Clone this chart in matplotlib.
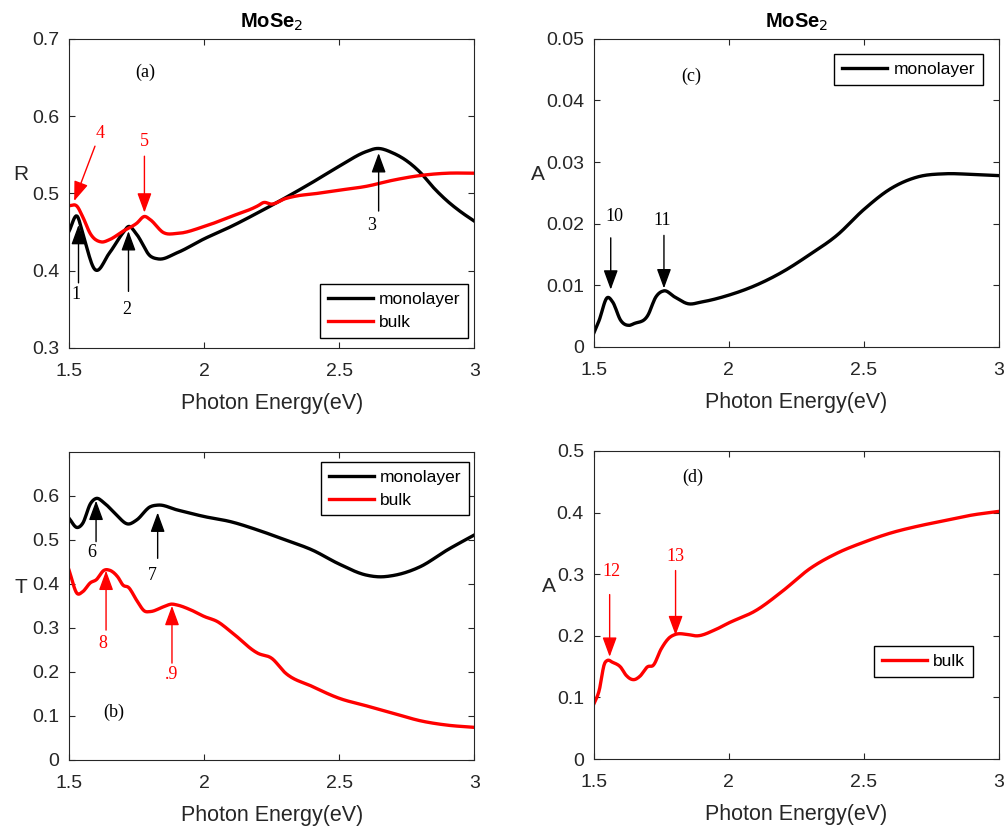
import numpy as np
import matplotlib.pyplot as plt

plt.rcParams['font.family'] = ['Liberation Sans', 'DejaVu Sans']

# ---- data ----
# (a) reflectance
ER_mono = [1.5, 1.531, 1.55, 1.594, 1.65, 1.7, 1.72, 1.75, 1.8, 1.83, 1.9, 2.0, 2.1, 2.2, 2.3,
           2.4, 2.5, 2.6, 2.64, 2.7, 2.75, 2.8, 2.85, 2.9, 2.95, 3.0]
R_mono = [0.451, 0.470, 0.449, 0.402, 0.423, 0.449, 0.457, 0.447, 0.419, 0.415, 0.423, 0.441,
          0.457, 0.475, 0.494, 0.514, 0.535, 0.554, 0.558, 0.552, 0.542, 0.527, 0.507, 0.490,
          0.476, 0.464]
ER_bulk = [1.5, 1.53, 1.55, 1.58, 1.62, 1.65, 1.7, 1.75, 1.78, 1.8, 1.85, 1.9, 2.0, 2.1, 2.2,
           2.22, 2.25, 2.3, 2.35, 2.4, 2.5, 2.6, 2.7, 2.8, 2.9, 3.0]
R_bulk = [0.484, 0.483, 0.470, 0.447, 0.437, 0.440, 0.451, 0.461, 0.470, 0.466, 0.449, 0.448,
          0.457, 0.470, 0.484, 0.488, 0.486, 0.493, 0.497, 0.499, 0.504, 0.509, 0.517, 0.523,
          0.526, 0.526]

# (b) transmittance
ET_mono = [1.5, 1.53, 1.55, 1.58, 1.6, 1.63, 1.67, 1.72, 1.75, 1.8, 1.83, 1.9, 2.0, 2.1, 2.2,
           2.3, 2.4, 2.5, 2.6, 2.65, 2.7, 2.8, 2.9, 3.0]
T_mono = [0.549, 0.528, 0.537, 0.583, 0.594, 0.584, 0.560, 0.536, 0.545, 0.575, 0.579, 0.568,
          0.553, 0.541, 0.522, 0.500, 0.477, 0.445, 0.420, 0.416, 0.419, 0.439, 0.477, 0.511]
ET_bulk = [1.5, 1.53, 1.55, 1.58, 1.6, 1.63, 1.65, 1.68, 1.7, 1.72, 1.75, 1.78, 1.8, 1.85,
           1.88, 1.9, 1.95, 2.0, 2.05, 2.1, 2.2, 2.25, 2.3, 2.4, 2.5, 2.6, 2.7, 2.8, 2.9, 3.0]
T_bulk = [0.431, 0.378, 0.382, 0.403, 0.409, 0.431, 0.431, 0.416, 0.397, 0.392, 0.363, 0.338,
          0.337, 0.348, 0.354, 0.352, 0.341, 0.326, 0.314, 0.291, 0.242, 0.231, 0.198, 0.167,
          0.140, 0.123, 0.106, 0.089, 0.079, 0.074]

# (c) absorbance monolayer
EA_mono = [1.5, 1.52, 1.55, 1.57, 1.6, 1.63, 1.65, 1.7, 1.73, 1.76, 1.8, 1.85, 1.9, 2.0, 2.1,
           2.2, 2.3, 2.4, 2.5, 2.6, 2.7, 2.8, 2.9, 3.0]
A_mono = [0.0022, 0.0043, 0.0080, 0.0073, 0.0043, 0.0035, 0.0038, 0.0051, 0.0081, 0.0091,
          0.0081, 0.0070, 0.0073, 0.0084, 0.0100, 0.0122, 0.0150, 0.0181, 0.0223, 0.0257,
          0.0276, 0.0281, 0.0280, 0.0278]

# (d) absorbance bulk
EA_bulk = [1.5, 1.52, 1.54, 1.55, 1.57, 1.6, 1.62, 1.65, 1.67, 1.7, 1.72, 1.75, 1.78, 1.8,
           1.85, 1.88, 1.95, 2.0, 2.1, 2.2, 2.3, 2.4, 2.5, 2.6, 2.7, 2.8, 2.9, 3.0]
A_bulk = [0.089, 0.111, 0.155, 0.160, 0.157, 0.149, 0.136, 0.129, 0.134, 0.150, 0.152, 0.179,
          0.197, 0.202, 0.202, 0.200, 0.210, 0.221, 0.241, 0.273, 0.309, 0.334, 0.352, 0.367,
          0.378, 0.387, 0.396, 0.402]


def smooth(x, y):
    # cubic Hermite through the read points, just for a smooth line
    xs = np.linspace(x[0], x[-1], 400)
    x = np.asarray(x)
    y = np.asarray(y)
    d = np.gradient(y, x)
    idx = np.clip(np.searchsorted(x, xs) - 1, 0, len(x) - 2)
    h = x[idx + 1] - x[idx]
    t = (xs - x[idx]) / h
    h00 = 2 * t**3 - 3 * t**2 + 1
    h10 = t**3 - 2 * t**2 + t
    h01 = -2 * t**3 + 3 * t**2
    h11 = t**3 - t**2
    ys = h00 * y[idx] + h10 * h * d[idx] + h01 * y[idx + 1] + h11 * h * d[idx + 1]
    return xs, ys


fig = plt.figure(figsize=(10.08, 8.26), dpi=100)
ax_a = fig.add_axes([0.0685, 0.579, 0.402, 0.374])
ax_c = fig.add_axes([0.589, 0.580, 0.402, 0.373])
ax_b = fig.add_axes([0.0685, 0.080, 0.402, 0.373])
ax_d = fig.add_axes([0.589, 0.081, 0.402, 0.373])

LW = 2.4
serif = dict(family=['Liberation Serif', 'DejaVu Serif'], fontsize=13)
GRAY = '#262626'


def style(ax):
    ax.set_xlim(1.5, 3)
    ax.set_xticks([1.5, 2, 2.5, 3])
    ax.set_xticklabels(['1.5', '2', '2.5', '3'])
    ax.tick_params(direction='in', top=True, right=True, labelsize=14,
                   colors=GRAY, length=4, width=0.8, pad=7)
    ax.tick_params(axis='x', pad=11)
    for s in ax.spines.values():
        s.set_color(GRAY)
        s.set_linewidth(0.8)
    ax.set_xlabel('Photon Energy(eV)', fontsize=15.5, color=GRAY, labelpad=9)


def ylab(ax, txt, x):
    ax.set_ylabel(txt, rotation=0, fontsize=15, color=GRAY)
    ax.yaxis.set_label_coords(x, 0.53)


def arrow(ax, x0, y0, x1, y1, color):
    ax.annotate('', xy=(x1, y1), xytext=(x0, y0),
                arrowprops=dict(arrowstyle='-|>,head_length=0.6,head_width=0.22',
                                color=color, lw=1.0, mutation_scale=20,
                                shrinkA=0, shrinkB=0))


def legend(ax, **kw):
    leg = ax.legend(fontsize=12.5, handlelength=2.6, handletextpad=0.35, fancybox=False,
                    framealpha=1, edgecolor='black', borderpad=0.45, labelspacing=0.45,
                    borderaxespad=0, **kw)
    leg.get_frame().set_linewidth(1.0)


# (a)
ax_a.plot(*smooth(ER_mono, R_mono), color='black', lw=LW, label='monolayer')
ax_a.plot(*smooth(ER_bulk, R_bulk), color='red', lw=LW, label='bulk')
style(ax_a)
ax_a.set_ylim(0.3, 0.7)
ax_a.set_yticks([0.3, 0.4, 0.5, 0.6, 0.7])
ylab(ax_a, 'R', -0.12)
ax_a.set_title('MoSe$_2$', fontweight='bold', fontsize=14.5, pad=8)
legend(ax_a, loc='lower right', bbox_to_anchor=(0.985, 0.032))
ax_a.text(1.781, 0.656, '(a)', ha='center', va='center', **serif)
arrow(ax_a, 1.535, 0.384, 1.535, 0.459, 'black')
ax_a.text(1.526, 0.369, '1', ha='center', va='center', **serif)
arrow(ax_a, 1.72, 0.373, 1.72, 0.451, 'black')
ax_a.text(1.714, 0.350, '2', ha='center', va='center', **serif)
arrow(ax_a, 2.646, 0.477, 2.646, 0.552, 'black')
ax_a.text(2.621, 0.458, '3', ha='center', va='center', **serif)
arrow(ax_a, 1.596, 0.561, 1.519, 0.490, 'red')
ax_a.text(1.615, 0.578, '4', ha='center', va='center', color='red', **serif)
arrow(ax_a, 1.779, 0.548, 1.779, 0.475, 'red')
ax_a.text(1.779, 0.567, '5', ha='center', va='center', color='red', **serif)

# (c)
ax_c.plot(*smooth(EA_mono, A_mono), color='black', lw=LW, label='monolayer')
style(ax_c)
ax_c.set_ylim(0, 0.05)
ax_c.set_yticks([0, 0.01, 0.02, 0.03, 0.04, 0.05])
ax_c.set_yticklabels(['0', '0.01', '0.02', '0.03', '0.04', '0.05'])
ylab(ax_c, 'A', -0.138)
ax_c.set_title('MoSe$_2$', fontweight='bold', fontsize=14.5, pad=8)
legend(ax_c, loc='upper right', bbox_to_anchor=(0.960, 0.951))
ax_c.text(1.861, 0.0439, '(c)', ha='center', va='center', **serif)
arrow(ax_c, 1.563, 0.0177, 1.563, 0.0093, 'black')
ax_c.text(1.578, 0.0211, '10', ha='center', va='center', **serif)
arrow(ax_c, 1.760, 0.0181, 1.760, 0.0095, 'black')
ax_c.text(1.753, 0.0205, '11', ha='center', va='center', **serif)

# (b)
ax_b.plot(*smooth(ET_mono, T_mono), color='black', lw=LW, label='monolayer')
ax_b.plot(*smooth(ET_bulk, T_bulk), color='red', lw=LW, label='bulk')
style(ax_b)
ax_b.set_ylim(0, 0.7)
ax_b.set_yticks([0, 0.1, 0.2, 0.3, 0.4, 0.5, 0.6])
ax_b.set_yticklabels(['0', '0.1', '0.2', '0.3', '0.4', '0.5', '0.6'])
ylab(ax_b, 'T', -0.12)
legend(ax_b, loc='upper right', bbox_to_anchor=(0.988, 0.968))
ax_b.text(1.664, 0.107, '(b)', ha='center', va='center', **serif)
arrow(ax_b, 1.6, 0.496, 1.6, 0.589, 'black')
ax_b.text(1.584, 0.471, '6', ha='center', va='center', **serif)
arrow(ax_b, 1.828, 0.458, 1.828, 0.562, 'black')
ax_b.text(1.810, 0.420, '7', ha='center', va='center', **serif)
arrow(ax_b, 1.637, 0.295, 1.637, 0.430, 'red')
ax_b.text(1.625, 0.265, '8', ha='center', va='center', color='red', **serif)
arrow(ax_b, 1.881, 0.220, 1.881, 0.350, 'red')
ax_b.text(1.880, 0.195, '.9', ha='center', va='center', color='red', **serif)

# (d)
ax_d.plot(*smooth(EA_bulk, A_bulk), color='red', lw=LW, label='bulk')
style(ax_d)
ax_d.set_ylim(0, 0.5)
ax_d.set_yticks([0, 0.1, 0.2, 0.3, 0.4, 0.5])
ax_d.set_yticklabels(['0', '0.1', '0.2', '0.3', '0.4', '0.5'])
ylab(ax_d, 'A', -0.11)
legend(ax_d, loc='lower right', bbox_to_anchor=(0.936, 0.266))
ax_d.text(1.865, 0.458, '(d)', ha='center', va='center', **serif)
arrow(ax_d, 1.559, 0.267, 1.559, 0.166, 'red')
ax_d.text(1.565, 0.305, '12', ha='center', va='center', color='red', **serif)
arrow(ax_d, 1.803, 0.306, 1.803, 0.201, 'red')
ax_d.text(1.803, 0.329, '13', ha='center', va='center', color='red', **serif)

fig.savefig('out.png', dpi=100)
